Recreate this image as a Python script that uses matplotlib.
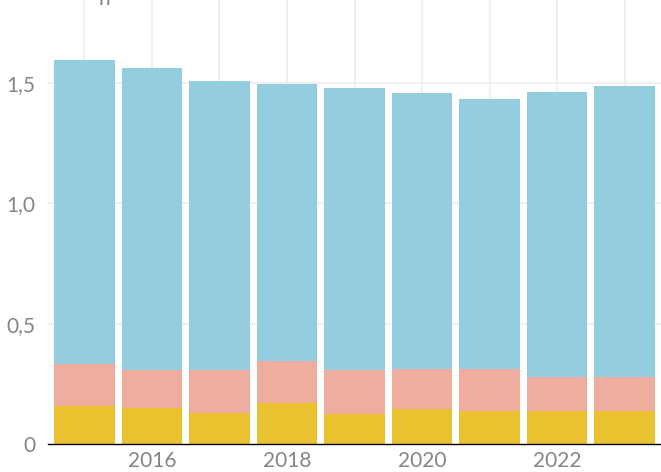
import numpy as np
import matplotlib.pyplot as plt
from matplotlib.ticker import FuncFormatter

years = [2015, 2016, 2017, 2018, 2019, 2020, 2021, 2022, 2023]
bottom_part = [0.159, 0.151, 0.130, 0.170, 0.126, 0.144, 0.137, 0.137, 0.137]
middle_part = [0.173, 0.156, 0.177, 0.175, 0.181, 0.166, 0.173, 0.141, 0.141]
totals = [1.595, 1.562, 1.508, 1.496, 1.479, 1.458, 1.433, 1.462, 1.487]

tick_years = [2016, 2018, 2020, 2022]
y_ticks = [0, 0.5, 1.0, 1.5]

yellow = "#EAC22F"
salmon = "#EFADA0"
blue = "#93CDDF"

plt.rcParams['font.family'] = ['Lato', 'DejaVu Sans']

x = np.array(years)
b = np.array(bottom_part)
m = np.array(middle_part)
top = np.array(totals) - b - m

fig = plt.figure(figsize=(6.61, 4.72), dpi=100)
ax = fig.add_axes([48 / 661, 28 / 472, 613 / 661, 444 / 472])

w = 0.9
ax.bar(x, b, width=w, color=yellow, zorder=2)
ax.bar(x, m, width=w, bottom=b, color=salmon, zorder=2)
ax.bar(x, top, width=w, bottom=b + m, color=blue, zorder=2)

ax.set_xlim(2014.46, 2023.54)
ax.set_ylim(0, 1.845)

for yr in years:
    ax.axvline(yr, color="#eeeeee", lw=1.2, zorder=1)
for yv in y_ticks[1:]:
    ax.axhline(yv, color="#eeeeee", lw=1.2, zorder=1)

ax.set_xticks(tick_years)
ax.set_yticks(y_ticks)
ax.yaxis.set_major_formatter(FuncFormatter(lambda v, p: "0" if v == 0 else f"{v:.1f}".replace(".", ",")))
ax.tick_params(length=0, labelsize=15, colors="#858585", pad=5)
ax.tick_params(axis="y", pad=9)

for s in ["top", "right", "left"]:
    ax.spines[s].set_visible(False)
ax.spines["bottom"].set_color("black")
ax.spines["bottom"].set_linewidth(1.0)
ax.spines["bottom"].set_zorder(3)

# bottom of a clipped title shows at the top edge
fig.text(98 / 661, 1 - 5 / 472, "n", fontsize=15, color="#858585", ha="left", va="baseline")

fig.savefig("out.png", dpi=100)
